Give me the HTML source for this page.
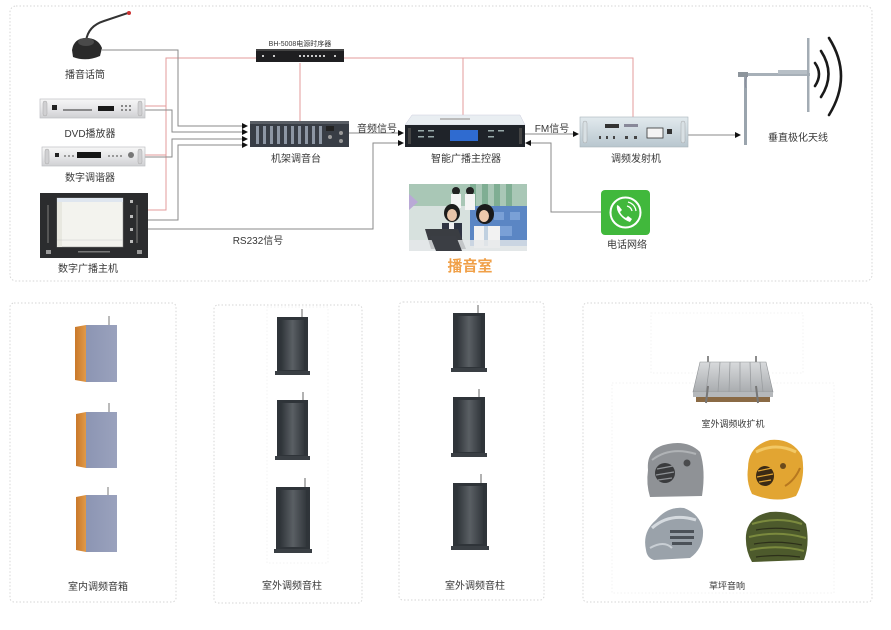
<!DOCTYPE html>
<html><head><meta charset="utf-8">
<style>
html,body{margin:0;padding:0;background:#fff;}
svg{display:block;}
text{font-family:"Liberation Sans","Noto Sans CJK SC",sans-serif;fill:#383838;font-size:10px;text-anchor:middle;}
</style></head>
<body>
<svg width="891" height="630" viewBox="0 0 891 630" xmlns="http://www.w3.org/2000/svg">
<defs>
  <linearGradient id="silver" x1="0" y1="0" x2="0" y2="1">
    <stop offset="0" stop-color="#f7f7f7"/><stop offset="0.5" stop-color="#e6e6e8"/><stop offset="1" stop-color="#cfd0d3"/>
  </linearGradient>
  <linearGradient id="col" x1="0" y1="0" x2="1" y2="0">
    <stop offset="0" stop-color="#2f3439"/><stop offset="0.5" stop-color="#5a5f64"/><stop offset="1" stop-color="#33383d"/>
  </linearGradient>
  <linearGradient id="blue" x1="0" y1="0" x2="1" y2="0">
    <stop offset="0" stop-color="#8c95b3"/><stop offset="1" stop-color="#9aa2bd"/>
  </linearGradient>
  <linearGradient id="wood" x1="0" y1="0" x2="1" y2="0">
    <stop offset="0" stop-color="#c9782a"/><stop offset="1" stop-color="#e19a48"/>
  </linearGradient>
  <linearGradient id="tx" x1="0" y1="0" x2="0" y2="1">
    <stop offset="0" stop-color="#e2eaee"/><stop offset="1" stop-color="#b8c6ce"/>
  </linearGradient>
  <linearGradient id="amp" x1="0" y1="0" x2="0" y2="1">
    <stop offset="0" stop-color="#d8dadc"/><stop offset="1" stop-color="#a9acaf"/>
  </linearGradient>
  <marker id="ar" markerWidth="6" markerHeight="6" refX="5" refY="3" orient="auto" markerUnits="userSpaceOnUse">
    <path d="M0,0 L6,3 L0,6 z" fill="#111"/>
  </marker>
</defs>

<!-- panels -->
<g fill="none" stroke="#d6d6d6" stroke-width="1" stroke-dasharray="1.5,2">
  <rect x="10" y="6" width="862" height="275" rx="6"/>
  <rect x="10" y="303" width="166" height="299" rx="4"/>
  <rect x="214" y="305" width="148" height="298" rx="4"/>
  <rect x="399" y="302" width="145" height="298" rx="4"/>
  <rect x="583" y="303" width="289" height="299" rx="4"/>
</g>
<g fill="none" stroke="#f3f3f3" stroke-width="1" stroke-dasharray="1.5,2">
  <rect x="651" y="313" width="152" height="60"/>
  <rect x="612" y="383" width="222" height="210"/>
  <rect x="267" y="307" width="61" height="256"/>
</g>

<!-- red power lines -->
<g fill="none" stroke="#e39b9b" stroke-width="1">
  <polyline points="256,58 166,58 166,210 148,210"/>
  <line x1="145" y1="106" x2="166" y2="106"/>
  <line x1="145" y1="155" x2="166" y2="155"/>
  <polyline points="342,58 633,58 633,117"/>
  <line x1="463" y1="58" x2="463" y2="115"/>
  <line x1="300" y1="63" x2="300" y2="121"/>
</g>

<!-- gray signal lines -->
<g fill="none" stroke="#8a8a8a" stroke-width="1">
  <polyline points="102,50 178,50 178,126 247,126" marker-end="url(#ar)"/>
  <polyline points="145,110 172,110 172,132 247,132" marker-end="url(#ar)"/>
  <polyline points="145,157 172,157 172,139 247,139" marker-end="url(#ar)"/>
  <polyline points="148,220 178,220 178,145 247,145" marker-end="url(#ar)"/>
  <polyline points="349,133 403,133" marker-end="url(#ar)"/>
  <polyline points="148,229 373,229 373,143 403,143" marker-end="url(#ar)"/>
  <polyline points="525,134 578,134" marker-end="url(#ar)"/>
  <polyline points="688,135 740,135" marker-end="url(#ar)"/>
  <polyline points="601,212 551,212 551,143 526,143" marker-end="url(#ar)"/>
</g>

<!-- microphone -->
<path d="M86,41 Q88,26 104,21 L128,13" fill="none" stroke="#333" stroke-width="2"/>
<circle cx="129" cy="13" r="2" fill="#c33"/>
<path d="M72,50 Q74,38 86,38 Q98,38 102,48 L100,56 Q86,62 73,57 z" fill="#2a2a2a"/>
<ellipse cx="86" cy="42" rx="8" ry="4" fill="#4a4a4a"/>

<!-- DVD -->
<rect x="40" y="99" width="105" height="19" fill="url(#silver)" stroke="#bfc0c3" stroke-width="0.7"/>
<rect x="43" y="101" width="4" height="15" rx="2" fill="#d0d0d2" stroke="#aaa" stroke-width="0.5"/>
<rect x="138" y="101" width="4" height="15" rx="2" fill="#d0d0d2" stroke="#aaa" stroke-width="0.5"/>
<rect x="52" y="105" width="5" height="5" fill="#222"/>
<line x1="63" y1="110" x2="92" y2="110" stroke="#555" stroke-width="1.2"/>
<rect x="98" y="106" width="16" height="5" fill="#1a1a1a"/>
<g fill="#888"><rect x="121" y="105" width="2" height="2"/><rect x="125" y="105" width="2" height="2"/><rect x="129" y="105" width="2" height="2"/><rect x="121" y="109" width="2" height="2"/><rect x="125" y="109" width="2" height="2"/><rect x="129" y="109" width="2" height="2"/></g>

<!-- tuner -->
<rect x="42" y="147" width="103" height="19" fill="url(#silver)" stroke="#bfc0c3" stroke-width="0.7"/>
<rect x="45" y="149" width="4" height="15" rx="2" fill="#d0d0d2" stroke="#aaa" stroke-width="0.5"/>
<rect x="138" y="149" width="4" height="15" rx="2" fill="#d0d0d2" stroke="#aaa" stroke-width="0.5"/>
<rect x="55" y="153" width="4" height="4" fill="#222"/>
<g fill="#999"><rect x="64" y="155" width="2" height="2"/><rect x="68" y="155" width="2" height="2"/><rect x="72" y="155" width="2" height="2"/></g>
<rect x="77" y="152" width="24" height="6" fill="#151515"/>
<g fill="#999"><rect x="108" y="155" width="2" height="2"/><rect x="112" y="155" width="2" height="2"/><rect x="116" y="155" width="2" height="2"/><rect x="120" y="155" width="2" height="2"/></g>
<circle cx="131" cy="155" r="3" fill="#777"/>

<!-- digital host -->
<rect x="40" y="193" width="108" height="65" fill="#2b2c2e"/>
<rect x="57" y="198" width="66" height="49" fill="#f3f3ee" stroke="#888" stroke-width="0.5"/>
<rect x="57" y="198" width="66" height="4" fill="#dfe6ef"/>
<rect x="57" y="202" width="5" height="45" fill="#e8e8e0"/>
<line x1="57" y1="240" x2="123" y2="240" stroke="#ccc" stroke-width="0.5"/>
<rect x="47" y="205" width="2" height="38" fill="#555"/>
<rect x="136" y="205" width="2" height="38" fill="#555"/>
<g fill="#bbb"><rect x="130" y="200" width="3" height="3"/><rect x="130" y="215" width="3" height="3"/><rect x="130" y="228" width="3" height="3"/><rect x="130" y="240" width="3" height="3"/></g>
<rect x="46" y="250" width="5" height="4" fill="#999"/>
<rect x="137" y="250" width="5" height="4" fill="#999"/>
<rect x="78" y="251" width="32" height="1.5" fill="#777"/>

<!-- power sequencer -->
<rect x="256" y="49" width="88" height="13" fill="#1f1f21"/>
<rect x="256" y="49" width="88" height="2" fill="#444"/>
<g fill="#ccc"><rect x="262" y="55" width="2" height="2"/><rect x="273" y="55" width="2" height="2"/>
<rect x="299" y="55" width="2" height="2"/><rect x="303" y="55" width="2" height="2"/><rect x="307" y="55" width="2" height="2"/><rect x="311" y="55" width="2" height="2"/><rect x="315" y="55" width="2" height="2"/><rect x="319" y="55" width="2" height="2"/><rect x="323" y="55" width="2" height="2"/><rect x="334" y="55" width="2" height="2"/></g>

<!-- mixer -->
<rect x="250" y="121" width="99" height="26" fill="#383d45"/>
<rect x="250" y="121" width="99" height="3" fill="#5a5f66"/>
<g fill="#8d96a3">
  <rect x="256" y="126" width="3" height="18"/><rect x="263" y="126" width="3" height="18"/><rect x="270" y="126" width="3" height="18"/><rect x="277" y="126" width="3" height="18"/><rect x="284" y="126" width="3" height="18"/><rect x="291" y="126" width="3" height="18"/><rect x="298" y="126" width="3" height="18"/><rect x="305" y="126" width="3" height="18"/><rect x="312" y="126" width="3" height="18"/><rect x="319" y="126" width="3" height="18"/>
</g>
<rect x="326" y="126" width="8" height="5" fill="#222"/>
<circle cx="330" cy="137" r="2" fill="#999"/><circle cx="341" cy="133" r="2" fill="#999"/><circle cx="341" cy="141" r="2" fill="#999"/>

<!-- controller -->
<polygon points="412,115 520,115 525,125 405,125" fill="#e9eef2" stroke="#ccd" stroke-width="0.5"/>
<rect x="440" y="118" width="30" height="2" fill="#bbb"/>
<rect x="405" y="125" width="120" height="22" fill="#1f2329"/>
<rect x="450" y="130" width="28" height="11" fill="#2f6bd0"/>
<g fill="#9aa"><rect x="418" y="130" width="6" height="1.5"/><rect x="428" y="130" width="6" height="1.5"/><rect x="418" y="136" width="6" height="1.5"/><rect x="428" y="136" width="6" height="1.5"/><rect x="488" y="130" width="6" height="1.5"/><rect x="498" y="130" width="6" height="1.5"/><rect x="488" y="136" width="6" height="1.5"/></g>
<rect x="408" y="128" width="3" height="16" fill="#444"/><rect x="519" y="128" width="3" height="16" fill="#444"/>

<!-- FM transmitter -->
<rect x="580" y="117" width="108" height="30" fill="url(#tx)" stroke="#a8b4bb" stroke-width="0.6"/>
<rect x="583" y="121" width="4" height="22" rx="2" fill="#d8e0e4" stroke="#999" stroke-width="0.4"/>
<rect x="681" y="121" width="4" height="22" rx="2" fill="#d8e0e4" stroke="#999" stroke-width="0.4"/>
<rect x="605" y="124" width="14" height="4" fill="#333"/>
<rect x="624" y="124" width="14" height="3" fill="#889"/>
<rect x="647" y="128" width="16" height="10" fill="#f4f4f4" stroke="#333" stroke-width="0.8"/>
<rect x="667" y="129" width="5" height="5" fill="#333"/>
<g fill="#444"><rect x="599" y="136" width="2" height="3"/><rect x="606" y="136" width="2" height="3"/><rect x="613" y="136" width="2" height="3"/><rect x="625" y="136" width="3" height="3"/><rect x="634" y="136" width="3" height="3"/></g>

<!-- antenna -->
<rect x="744" y="77" width="3" height="68" fill="#9aa4ad"/>
<rect x="738" y="73" width="72" height="3" fill="#a7b0b8"/>
<rect x="738" y="72" width="10" height="5" fill="#8d959c"/>
<rect x="778" y="70" width="30" height="4" fill="#b7bfc6"/>
<rect x="807" y="38" width="2.5" height="74" fill="#a3acb4"/>
<path d="M747,76 Q744,82 746,88" fill="none" stroke="#889" stroke-width="0.8"/>
<g fill="none" stroke="#1a1a1a" stroke-width="2.6" stroke-linecap="round">
  <path d="M815,63 Q823,74 815,86"/>
  <path d="M821,51 Q836,74 821,97"/>
  <path d="M829,38 Q853,76 829,115"/>
</g>

<!-- broadcast room photo -->
<rect x="409" y="184" width="118" height="67" fill="#d7e1de"/>
<rect x="409" y="184" width="118" height="22" fill="#a9c7b6"/>
<g fill="#7fae93"><rect x="470" y="184" width="6" height="22"/><rect x="482" y="184" width="6" height="22"/><rect x="494" y="184" width="6" height="22"/><rect x="506" y="184" width="6" height="22"/></g>
<polygon points="409,194 418,202 409,210" fill="#b9a9d6"/>
<rect x="470" y="206" width="57" height="40" fill="#5b86c4"/>
<g fill="#7aa0d6"><rect x="476" y="212" width="10" height="8"/><rect x="494" y="212" width="10" height="8"/><rect x="510" y="212" width="10" height="8"/><rect x="500" y="226" width="12" height="10"/></g>
<circle cx="456" cy="191" r="4" fill="#222"/><rect x="451" y="194" width="10" height="14" fill="#f4f4f4"/>
<circle cx="470" cy="191" r="4" fill="#222"/><rect x="465" y="194" width="10" height="16" fill="#f4f4f4"/>
<ellipse cx="452" cy="213" rx="8" ry="9" fill="#1c1c1c"/><ellipse cx="452" cy="215" rx="5" ry="6" fill="#e8c4a8"/>
<rect x="442" y="223" width="20" height="22" fill="#2e3442"/><rect x="449" y="223" width="5" height="20" fill="#f0f0f0"/>
<ellipse cx="485" cy="214" rx="9" ry="10" fill="#1a1a1a"/><ellipse cx="484" cy="216" rx="5" ry="6" fill="#ecc9ad"/>
<rect x="474" y="226" width="26" height="22" fill="#f2f2f2"/><rect x="484" y="226" width="4" height="20" fill="#c0d0e0"/>
<polygon points="425,229 458,229 466,249 431,249" fill="#3a3d42"/>
<rect x="409" y="240" width="118" height="11" fill="#e6e8ea" opacity="0.8"/>
<polygon points="430,236 456,236 462,251 436,251" fill="#3b3e44"/>

<!-- phone icon -->
<rect x="601" y="190" width="49" height="45" rx="4" fill="#41b83c"/>
<circle cx="625.5" cy="212.5" r="15" fill="none" stroke="#fff" stroke-width="2"/>
<path d="M617,205 Q616,210 620,215 Q624,220 630,222 L632,219 L628,216 L626,218 Q622,216 620,212 L622,210 L619,206 z" fill="#fff"/>
<path d="M627,206 Q631,207 632,211" fill="none" stroke="#fff" stroke-width="1.3"/>
<path d="M628,202 Q635,204 636,211" fill="none" stroke="#fff" stroke-width="1.3"/>

<!-- indoor speakers -->
<g>
  <line x1="109" y1="316" x2="109" y2="326" stroke="#777" stroke-width="1"/>
  <polygon points="75,327 86,325 86,382 75,380" fill="url(#wood)"/>
  <rect x="86" y="325" width="31" height="57" fill="url(#blue)"/>
  <line x1="109" y1="403" x2="109" y2="413" stroke="#777" stroke-width="1"/>
  <polygon points="76,414 86,412 86,468 76,466" fill="url(#wood)"/>
  <rect x="86" y="412" width="31" height="56" fill="url(#blue)"/>
  <line x1="108" y1="487" x2="108" y2="496" stroke="#777" stroke-width="1"/>
  <polygon points="76,497 86,495 86,552 76,550" fill="url(#wood)"/>
  <rect x="86" y="495" width="31" height="57" fill="url(#blue)"/>
</g>

<!-- outdoor columns panel 2 -->
<g>
  <line x1="302" y1="309" x2="302" y2="318" stroke="#666"/>
  <rect x="277" y="317" width="31" height="58" fill="#2f3439"/>
  <rect x="281" y="320" width="23" height="50" fill="url(#col)"/>
  <rect x="275" y="371" width="35" height="4" fill="#3a3f44"/>
  <line x1="303" y1="392" x2="303" y2="401" stroke="#666"/>
  <rect x="277" y="400" width="31" height="60" fill="#2f3439"/>
  <rect x="281" y="403" width="23" height="52" fill="url(#col)"/>
  <rect x="275" y="456" width="35" height="4" fill="#3a3f44"/>
  <line x1="305" y1="478" x2="305" y2="488" stroke="#666"/>
  <rect x="276" y="487" width="34" height="66" fill="#2f3439"/>
  <rect x="280" y="490" width="26" height="57" fill="url(#col)"/>
  <rect x="274" y="549" width="38" height="4" fill="#3a3f44"/>
</g>

<!-- outdoor columns panel 3 -->
<g>
  <line x1="478" y1="305" x2="478" y2="314" stroke="#666"/>
  <rect x="453" y="313" width="32" height="59" fill="#2f3439"/>
  <rect x="457" y="316" width="24" height="51" fill="url(#col)"/>
  <rect x="451" y="368" width="36" height="4" fill="#3a3f44"/>
  <line x1="479" y1="389" x2="479" y2="398" stroke="#666"/>
  <rect x="453" y="397" width="32" height="60" fill="#2f3439"/>
  <rect x="457" y="400" width="24" height="52" fill="url(#col)"/>
  <rect x="451" y="453" width="36" height="4" fill="#3a3f44"/>
  <line x1="481" y1="474" x2="481" y2="484" stroke="#666"/>
  <rect x="453" y="483" width="34" height="67" fill="#2f3439"/>
  <rect x="457" y="486" width="26" height="58" fill="url(#col)"/>
  <rect x="451" y="546" width="38" height="4" fill="#3a3f44"/>
</g>

<!-- outdoor amplifier -->
<g>
  <line x1="708" y1="356" x2="708" y2="364" stroke="#666" stroke-width="1.5"/>
  <line x1="756" y1="356" x2="756" y2="364" stroke="#666" stroke-width="1.5"/>
  <polygon points="700,362 766,362 773,392 693,392" fill="url(#amp)" stroke="#8e9194" stroke-width="0.6"/>
  <g stroke="#9a9da0" stroke-width="0.8"><line x1="710" y1="362" x2="706" y2="392"/><line x1="720" y1="362" x2="718" y2="392"/><line x1="730" y1="362" x2="729" y2="392"/><line x1="740" y1="362" x2="740" y2="392"/><line x1="750" y1="362" x2="751" y2="392"/><line x1="760" y1="362" x2="763" y2="392"/></g>
  <rect x="693" y="392" width="80" height="5" fill="#b5b8bb"/>
  <rect x="696" y="397" width="74" height="5" fill="#8a6a45"/>
  <line x1="708" y1="386" x2="706" y2="403" stroke="#777" stroke-width="2"/>
  <line x1="756" y1="386" x2="758" y2="403" stroke="#777" stroke-width="2"/>
</g>

<!-- lawn rocks -->
<path d="M648,470 Q646,448 668,444 Q688,440 700,452 Q706,470 702,496 L650,497 Q646,484 648,470 z" fill="#8f9296"/>
<path d="M652,460 Q670,446 696,454" fill="none" stroke="#b0b3b6" stroke-width="2"/>
<ellipse cx="665" cy="473" rx="10" ry="10" fill="#3a3b3d"/>
<g stroke="#8f9296" stroke-width="1.2"><line x1="657" y1="469" x2="673" y2="466"/><line x1="656" y1="475" x2="674" y2="472"/><line x1="658" y1="480" x2="672" y2="478"/></g>
<circle cx="687" cy="463" r="3.5" fill="#4a4b4d"/>

<path d="M748,468 Q748,446 770,440 Q792,438 802,456 Q806,478 796,496 Q776,504 752,494 Q746,482 748,468 z" fill="#e2a532"/>
<path d="M756,452 Q776,442 796,452" fill="none" stroke="#f2c865" stroke-width="3"/>
<path d="M785,486 Q795,480 800,468" fill="none" stroke="#b7781f" stroke-width="2"/>
<ellipse cx="765" cy="476" rx="9" ry="10" fill="#3b2a15"/>
<g stroke="#e2a532" stroke-width="1.2"><line x1="758" y1="471" x2="772" y2="468"/><line x1="757" y1="477" x2="773" y2="474"/><line x1="759" y1="482" x2="771" y2="480"/></g>
<circle cx="783" cy="466" r="3" fill="#6a4a1c"/>

<path d="M646,550 Q642,532 656,520 Q668,506 684,508 Q700,514 703,530 Q704,548 690,558 L654,560 Q647,558 646,550 z" fill="#9aa2aa"/>
<path d="M652,528 Q670,512 696,520" fill="none" stroke="#d5dadf" stroke-width="3"/>
<path d="M650,548 Q664,540 672,548" fill="none" stroke="#c8ced4" stroke-width="2"/>
<g fill="#4b5158"><rect x="670" y="530" width="24" height="3"/><rect x="670" y="536" width="24" height="3"/><rect x="672" y="542" width="20" height="3"/></g>

<path d="M746,535 Q748,516 770,512 Q794,510 806,524 Q810,544 804,560 L752,562 Q745,550 746,535 z" fill="#4d5a2c"/>
<g fill="none" stroke="#7b8a3e" stroke-width="2"><path d="M752,524 Q778,516 802,524"/><path d="M749,537 Q778,530 806,538"/><path d="M750,550 Q778,544 804,551"/></g>
<g fill="none" stroke="#2c2f1a" stroke-width="1.2"><path d="M756,530 Q778,526 800,531"/><path d="M754,544 Q778,540 802,545"/><path d="M756,557 Q778,554 800,557"/></g>

<!-- labels -->
<text x="85" y="78">播音话筒</text>
<text x="90" y="137">DVD播放器</text>
<text x="90" y="181">数字调谐器</text>
<text x="88" y="272">数字广播主机</text>
<text x="300" y="46" style="font-size:7px">BH-5008电源时序器</text>
<text x="296" y="162">机架调音台</text>
<text x="377" y="132">音频信号</text>
<text x="258" y="244">RS232信号</text>
<text x="466" y="162">智能广播主控器</text>
<text x="552" y="132">FM信号</text>
<text x="636" y="162">调频发射机</text>
<text x="798" y="141">垂直极化天线</text>
<text x="627" y="248">电话网络</text>
<text x="470" y="271" style="font-size:15px;fill:#f0a048;font-weight:bold">播音室</text>
<text x="98" y="590">室内调频音箱</text>
<text x="292" y="589">室外调频音柱</text>
<text x="475" y="589">室外调频音柱</text>
<text x="733" y="427" style="font-size:9px">室外调频收扩机</text>
<text x="727" y="589" style="font-size:9px">草坪音响</text>
</svg>
</body></html>
